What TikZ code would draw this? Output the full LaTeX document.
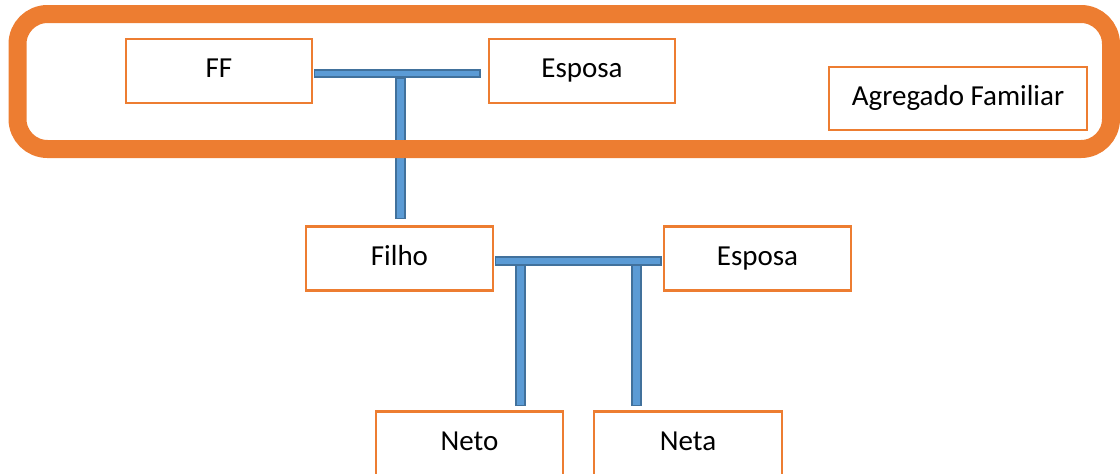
\documentclass[tikz,border=0pt]{standalone}
\usepackage{fontspec}
\setmainfont{Carlito}
\usetikzlibrary{calc}
\definecolor{frameorange}{HTML}{ED7D31}
\definecolor{linkfill}{HTML}{5B9BD5}
\definecolor{linkedge}{HTML}{41719C}
\begin{document}
\begin{tikzpicture}[x=1pt,y=-1pt,
  member/.style={draw=frameorange,line width=2.5pt,fill=white,
    minimum width=186pt,minimum height=64pt,inner sep=0pt,
    text height=19pt,text depth=6pt,
    font=\fontsize{29}{34}\selectfont},
  link/.style={fill=linkfill,draw=linkedge,line width=1.5pt},
  household/.style={draw=frameorange,line width=18pt,rounded corners=30pt}]
\useasboundingbox (0,0) rectangle (1120,474);

% family members
\node[member] (ff) at (219,71) {FF};
\node[member] (esposaA) at (582,71) {Esposa};
\node[member,minimum width=258pt,minimum height=63pt] (agregado) at (958,98.5) {Agregado Familiar};
\node[member,minimum width=187pt] (filho) at (399.5,258.5) {Filho};
\node[member,minimum width=187pt] (esposaB) at (757.5,258.5) {Esposa};
\node[member,minimum width=187pt] (neto) at (469.5,443.5) {Neto};
\node[member,minimum width=188pt] (neta) at (688,443.5) {Neta};

% first couple and their son
\draw[link] ($(ff.east)+(1,-1)$) rectangle ($(esposaA.west)+(-8,6)$);
\coordinate (mid1) at ($(ff.east)!0.5!(esposaA.west)+(0,6)$);
\draw[link] ($(mid1)+(-4.5,1)$) rectangle ($(mid1 |- filho.north)+(4.5,-7)$);

% second couple and their children
\draw[link] ($(filho.east)+(1,-1.5)$) rectangle ($(esposaB.west)+(-2,6.5)$);
\coordinate (dropA) at ($(filho.east)+(26.25,6.5)$);
\coordinate (dropB) at ($(esposaB.west)+(-26.25,6.5)$);
\draw[link] ($(dropA)+(-4.5,0)$) rectangle ($(dropA |- neto.north)+(4.5,-5)$);
\draw[link] ($(dropB)+(-4.5,0)$) rectangle ($(dropB |- neta.north)+(4.5,-5)$);

% household frame
\draw[household] (17.5,14) rectangle (1111,149);
\end{tikzpicture}
\end{document}
